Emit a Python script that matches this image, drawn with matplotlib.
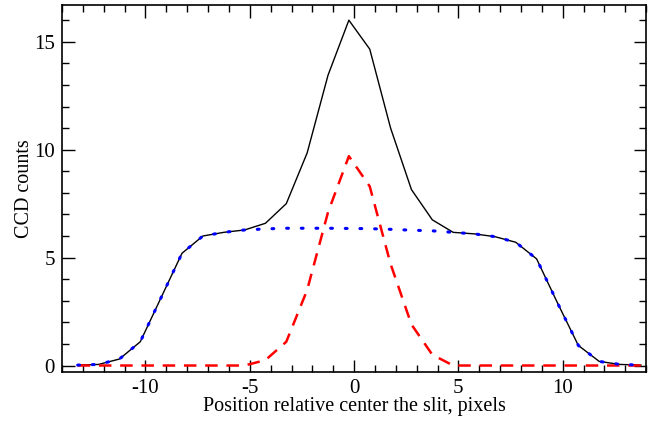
import numpy as np
import matplotlib
matplotlib.use("Agg")
import matplotlib.pyplot as plt
from matplotlib.ticker import MultipleLocator

plt.rcParams['font.family'] = ['Liberation Serif', 'DejaVu Serif']
plt.rcParams['axes.unicode_minus'] = False

# sample positions along the slit (pixels)
pos = np.arange(-13, 15) - 0.25

# total profile (black)
total = [0.02, 0.05, 0.3, 1.1, 3.15, 5.2, 6.0, 6.17, 6.28, 6.59,
         7.5, 9.85, 13.45, 16.0, 14.66, 11.0, 8.15, 6.75, 6.17, 6.1,
         5.97, 5.71, 4.94, 2.9, 0.93, 0.19, 0.05, 0.02]

# star component (red dashed)
star = [0, 0, 0, 0, 0, 0, 0, 0, 0, 0.25,
        1.1, 3.5, 7.1, 9.7, 8.3, 4.7, 1.9, 0.5, 0.0, 0,
        0, 0, 0, 0, 0, 0, 0, 0]

# background / sky (blue dotted)
sky = [0.02, 0.05, 0.3, 1.1, 3.15, 5.2, 6.0, 6.17, 6.28, 6.33,
       6.36, 6.36, 6.36, 6.35, 6.34, 6.31, 6.27, 6.24, 6.17, 6.1,
       5.97, 5.71, 4.94, 2.9, 0.93, 0.19, 0.05, 0.02]

fig = plt.figure(figsize=(6.6, 4.23), dpi=100)
ax = fig.add_axes([0.094, 0.1206, 0.885, 0.8674])

ax.plot(pos, total, color='black', lw=1.0)
ax.plot(pos, star, color='red', lw=1.8, dashes=(5, 3.5))
ax.plot(pos, sky, color='blue', lw=2.2, linestyle=(0, (0.6, 4.2)),
        dash_capstyle='round')

ax.set_xlim(-14, 14)
ax.set_ylim(-0.3, 16.7)
ax.xaxis.set_major_locator(MultipleLocator(5))
ax.xaxis.set_minor_locator(MultipleLocator(1))
ax.yaxis.set_major_locator(MultipleLocator(5))
ax.yaxis.set_minor_locator(MultipleLocator(1))
ax.tick_params(which='both', direction='in', top=True, right=True,
               labelsize=15, pad=5)
ax.tick_params(which='major', length=9, width=1)
ax.tick_params(which='minor', length=5, width=1)
for s in ax.spines.values():
    s.set_linewidth(1.2)

ax.set_xlabel('Position relative center the slit, pixels', fontsize=14.5, labelpad=-1)
ax.set_ylabel('CCD counts', fontsize=14.5, labelpad=0)

fig.savefig('out.png', dpi=100)
